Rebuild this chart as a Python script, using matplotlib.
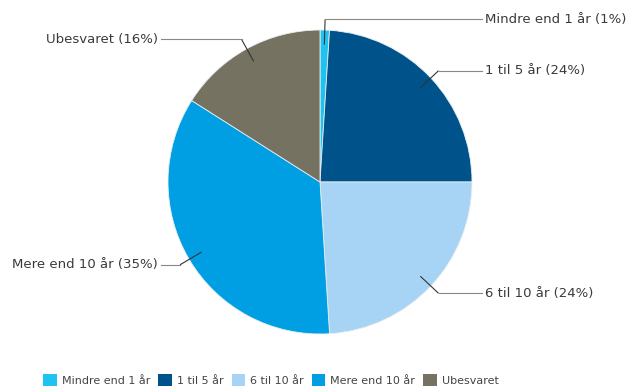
import numpy as np
import matplotlib
matplotlib.use("Agg")
import matplotlib.pyplot as plt
from matplotlib.patches import Patch

categories = ["Mindre end 1 år", "1 til 5 år", "6 til 10 år", "Mere end 10 år", "Ubesvaret"]
values = [1, 24, 24, 35, 16]
colors = ["#1fc3f2", "#00528a", "#a7d4f5", "#009fe3", "#757261"]

W, H = 630, 391
fig = plt.figure(figsize=(W / 100, H / 100), dpi=100)
ax = fig.add_axes([0, 0, 1, 1])
ax.set_xlim(0, W)
ax.set_ylim(0, H)
ax.set_aspect("equal")
ax.axis("off")

cx, cy, R = 320, H - 182, 152
wedges, _ = ax.pie(values, colors=colors, startangle=90, counterclock=False,
                   center=(cx, cy), radius=R,
                   wedgeprops=dict(edgecolor="#e8eef2", linewidth=0.6))
ax.set_xlim(0, W)
ax.set_ylim(0, H)

text_color = "#3a3a3a"
for w, cat, v in zip(wedges, categories, values):
    ang = np.deg2rad((w.theta1 + w.theta2) / 2)
    dx, dy = np.cos(ang), np.sin(ang)
    p0 = (cx + 0.905 * R * dx, cy + 0.905 * R * dy)
    p1 = (cx + 1.07 * R * dx, cy + 1.07 * R * dy)
    right = dx >= 0
    xend = 482 if right else 161
    ax.plot([p0[0], p1[0]], [p0[1], p1[1]], color="#333333", lw=0.8,
            solid_capstyle="butt")
    ax.plot([p1[0], xend], [p1[1], p1[1]], color="#888888", lw=0.8)
    ax.text(xend + (3 if right else -3), p1[1], f"{cat} ({v}%)",
            ha="left" if right else "right", va="center",
            fontsize=9.5, color=text_color, family="DejaVu Sans")

handles = [Patch(facecolor=c, edgecolor="none") for c in colors]
fig.legend(handles, categories, loc="center", bbox_to_anchor=(0.43, 0.028),
           ncol=5, frameon=False, fontsize=8, handlelength=1.2, handleheight=1.2,
           handletextpad=0.45, columnspacing=0.75, labelcolor="#444444")

fig.savefig("out.png", dpi=100, facecolor="white")
